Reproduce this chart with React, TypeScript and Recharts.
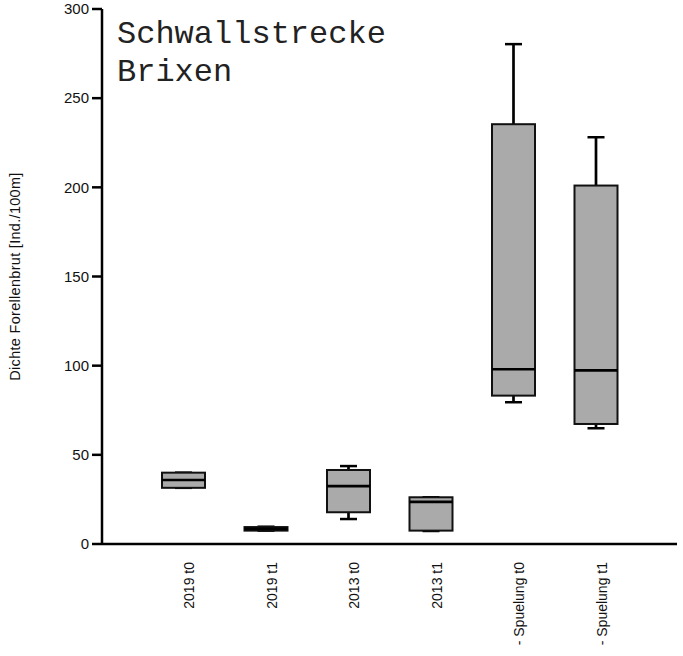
import React from 'react';
import { ComposedChart, Bar, XAxis, YAxis, Label } from 'recharts';

// groups along the x axis
const categories = ['2019 t0', '2019 t1', '2013 t0', '2013 t1', '- Spuelung t0', '- Spuelung t1'];

// five-number summary per group (Ind./100m)
const minVals = [31.5, 7.5, 14, 7.3, 79.5, 64.9];
const q1Vals = [31.5, 7.5, 17.8, 7.5, 83.2, 67.3];
const medianVals = [35.9, 8.5, 32.5, 23.6, 98, 97.4];
const q3Vals = [40, 9.5, 41.5, 26.2, 235.4, 201];
const maxVals = [40, 9.7, 43.7, 26.2, 280.3, 228.1];

const yTicks = [0, 50, 100, 150, 200, 250, 300];

const data = categories.map((name, i) => ({
  name,
  range: [minVals[i], maxVals[i]],
  min: minVals[i],
  q1: q1Vals[i],
  median: medianVals[i],
  q3: q3Vals[i],
  max: maxVals[i],
}));

const FONT = '"Liberation Sans", Arial, sans-serif';

// draws a box plot inside the pixel span of the [min, max] range bar
const BoxShape = (props: any) => {
  const { x, y, width, height, payload } = props;
  if (!payload || width == null) return null;
  const { min, q1, median, q3, max } = payload;
  const span = max - min || 1;
  const py = (v: number) => y + (height * (max - v)) / span;
  const cx = x + width / 2;
  const cap = 17;
  return (
    <g>
      <line x1={cx} x2={cx} y1={py(max)} y2={py(min)} stroke="#000" strokeWidth={2.7} />
      <line x1={cx - cap / 2} x2={cx + cap / 2} y1={py(max)} y2={py(max)} stroke="#000" strokeWidth={2.5} />
      <line x1={cx - cap / 2} x2={cx + cap / 2} y1={py(min)} y2={py(min)} stroke="#000" strokeWidth={2.5} />
      <rect
        x={x}
        y={py(q3)}
        width={width}
        height={Math.max(py(q1) - py(q3), 0.5)}
        fill="#aaaaaa"
        stroke="#111"
        strokeWidth={2}
      />
      <line x1={x} x2={x + width} y1={py(median)} y2={py(median)} stroke="#000" strokeWidth={2.7} />
    </g>
  );
};

const XTick = (props: any) => {
  const { x, y, payload } = props;
  return (
    <text
      transform={`translate(${x + 6},${y + 10}) rotate(-90)`}
      textAnchor="end"
      dominantBaseline="central"
      fontFamily={FONT}
      fontSize={14}
      fill="#111"
    >
      {payload.value}
    </text>
  );
};

const YTitle = (props: any) => {
  const { viewBox } = props;
  const cy = viewBox.y + viewBox.height / 2;
  return (
    <text
      x={15}
      y={cy}
      transform={`rotate(-90, 15, ${cy})`}
      textAnchor="middle"
      dominantBaseline="central"
      fontFamily={FONT}
      fontSize={14.5}
      letterSpacing={0.3}
      fill="#111"
    >
      Dichte Forellenbrut [Ind./100m]
    </text>
  );
};

export default function App() {
  return (
    <div style={{ position: 'absolute', left: 0, top: 0, width: 683, height: 656, background: '#fff' }}>
      <ComposedChart width={683} height={656} data={data} margin={{ top: 9, right: 6, bottom: 0, left: 0 }}>
        <XAxis
          dataKey="name"
          height={112}
          padding={{ left: 40, right: 40 }}
          tickLine={false}
          axisLine={{ stroke: '#000', strokeWidth: 2.5 }}
          tick={<XTick />}
          interval={0}
        />
        <XAxis
          xAxisId="top"
          dataKey="name"
          orientation="top"
          height={0}
          tick={false}
          tickLine={false}
          axisLine={{ stroke: '#000', strokeWidth: 2.5 }}
        />
        <YAxis
          width={102}
          domain={[0, 300]}
          ticks={yTicks}
          tickSize={10}
          tickMargin={3}
          tickLine={{ stroke: '#000', strokeWidth: 2.5 }}
          axisLine={{ stroke: '#000', strokeWidth: 2.5 }}
          tick={{ fontFamily: FONT, fontSize: 15, fill: '#111' }}
          interval={0}
        >
          <Label content={<YTitle />} />
        </YAxis>
        <YAxis
          yAxisId="right"
          orientation="right"
          width={0}
          domain={[0, 300]}
          tick={false}
          tickLine={false}
          axisLine={{ stroke: '#000', strokeWidth: 2.5 }}
        />
        <Bar dataKey="range" barSize={43} shape={(p: any) => <BoxShape {...p} />} isAnimationActive={false} />
      </ComposedChart>
      <div
        style={{
          position: 'absolute',
          left: 117,
          top: 16,
          fontFamily: '"Liberation Mono", "Courier New", monospace',
          fontSize: 32,
          lineHeight: '38.4px',
          color: '#222',
          whiteSpace: 'pre',
        }}
      >
        {'Schwallstrecke\nBrixen'}
      </div>
    </div>
  );
}
